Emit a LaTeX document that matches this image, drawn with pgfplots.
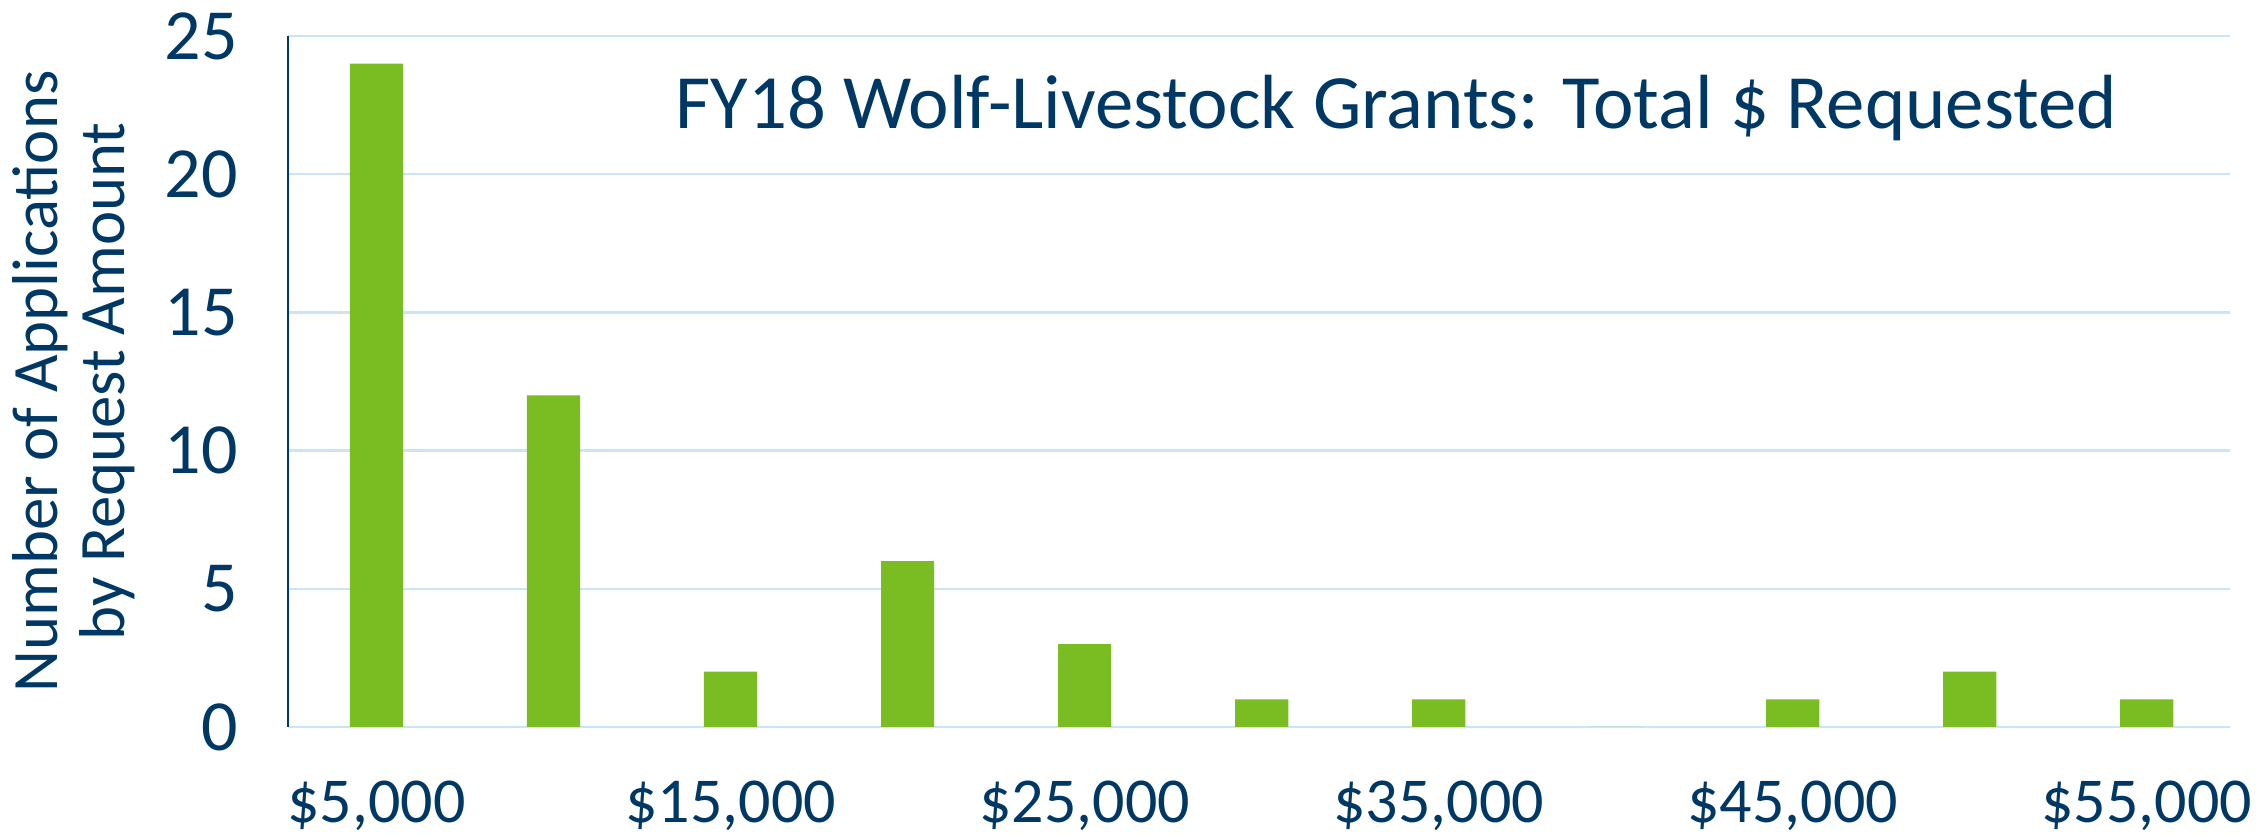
\documentclass[border=0pt]{standalone}
\usepackage{pgfplots}
\pgfplotsset{compat=1.18}
\usepackage{fontspec}
\setmainfont{Carlito}
\definecolor{navy}{RGB}{0,56,101}
\definecolor{bargreen}{RGB}{122,189,34}
\definecolor{gridblue}{RGB}{204,228,247}
\begin{document}
\begin{tikzpicture}
\begin{axis}[
  scale only axis,
  width=485.5pt, height=172.75pt,
  xmin=-0.5, xmax=10.47,
  ymin=0, ymax=25,
  ytick={0,5,10,15,20,25},
  xtick={0,2,4,6,8,10},
  xticklabels={{\$5,000},{\$15,000},{\$25,000},{\$35,000},{\$45,000},{\$55,000}},
  axis x line*=bottom,
  axis y line*=left,
  x axis line style={draw=none},
  y axis line style={draw=navy, line width=0.5pt},
  major tick length=0pt,
  ymajorgrids,
  grid style={gridblue, line width=0.6pt},
  ticklabel style={text=navy},
  yticklabel style={font=\fontsize{18}{21}\selectfont, xshift=-9pt},
  xticklabel style={font=\fontsize{16}{19}\selectfont, yshift=-10pt},
  /pgf/number format/assume math mode=true,
  ylabel={Number of Applications\\by Request Amount},
  every axis y label/.style={at={(rel axis cs:0,0.5)}, rotate=90, anchor=center, yshift=53.5pt,
    font=\fontsize{16.2}{16.8}\selectfont, text=navy, align=center},
  ybar, bar width=13.3pt,
  clip=false,
]
\addplot[fill=bargreen, draw=none] coordinates {
(0,24) (1,12) (2,2) (3,6) (4,3) (5,1) (6,1) (7,0) (8,1) (9,2) (10,1)
};
\node[text=navy, font=\fontsize{19.2}{22}\selectfont] at (axis cs:5.76,22.4) {FY18 Wolf-Livestock Grants: Total \$ Requested};
\end{axis}
\pgfresetboundingbox
\path ([xshift=-72pt,yshift=-28.25pt]current axis.south west) rectangle ([xshift=7.25pt,yshift=9pt]current axis.north east);
\end{tikzpicture}
\end{document}
